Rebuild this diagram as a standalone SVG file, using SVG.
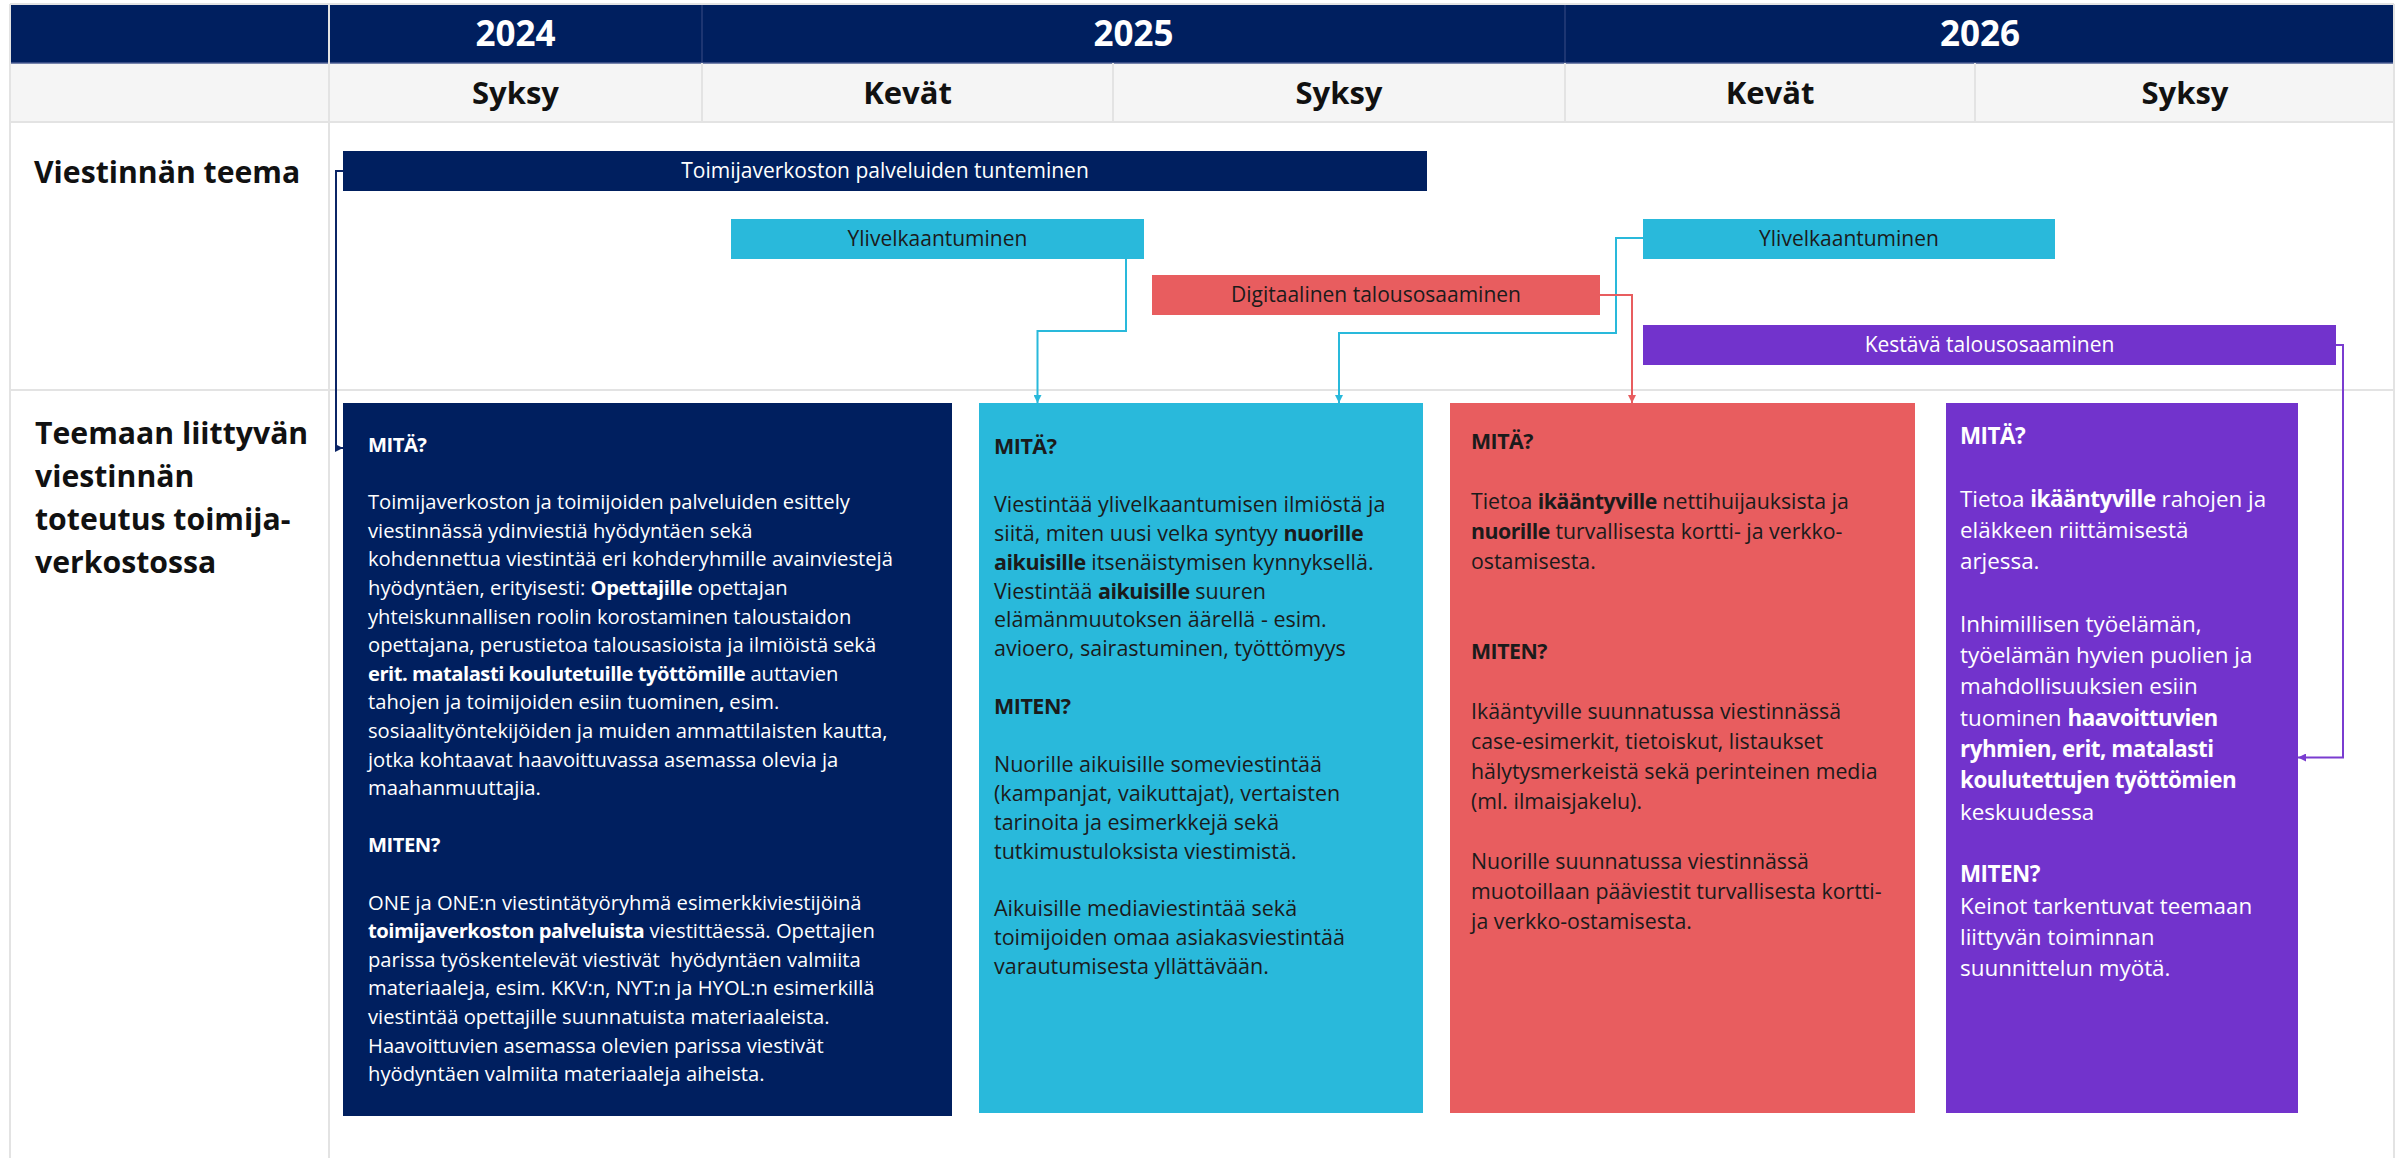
<svg xmlns="http://www.w3.org/2000/svg" width="2405" height="1158" viewBox="0 0 2405 1158">
<defs>
<style>
text{font-family:"Open Sans","Liberation Sans",sans-serif;}
.yr{font-size:35px;font-weight:700;fill:#fff;text-anchor:middle;}
.ss{font-size:31px;font-weight:700;fill:#111;text-anchor:middle;}
.rl{font-size:30.2px;font-weight:700;fill:#111;}
.bt{font-size:21px;text-anchor:middle;}
.w{fill:#fff;}
.d{fill:#1b1b1b;}
.bn{font-size:20.2px;}
.bc{font-size:21.5px;}
.br{font-size:21.3px;}
.bp{font-size:22.4px;}
.b{font-weight:700;letter-spacing:-0.5px;}
.grid{stroke:#e3e3e3;stroke-width:2;fill:none;}
.conn path{fill:none;stroke-width:2;}
</style>
<marker id="mNavy" markerWidth="8" markerHeight="8" refX="8" refY="4" orient="auto" markerUnits="userSpaceOnUse"><path d="M0,0 L8,4 L0,8 Z" fill="#0b2566"/></marker>
<marker id="mCyan" markerWidth="8" markerHeight="8" refX="8" refY="4" orient="auto" markerUnits="userSpaceOnUse"><path d="M0,0 L8,4 L0,8 Z" fill="#29b9db"/></marker>
<marker id="mRed" markerWidth="8" markerHeight="8" refX="8" refY="4" orient="auto" markerUnits="userSpaceOnUse"><path d="M0,0 L8,4 L0,8 Z" fill="#e85d5f"/></marker>
<marker id="mPur" markerWidth="8" markerHeight="8" refX="8" refY="4" orient="auto" markerUnits="userSpaceOnUse"><path d="M0,0 L8,4 L0,8 Z" fill="#7a3cd0"/></marker>
</defs>
<rect width="2405" height="1158" fill="#fff"/>

<g id="header">
<rect x="10" y="4" width="2384" height="59" fill="#001f5f"/>
<rect x="10" y="63" width="2384" height="59" fill="#f5f5f5"/>
<path d="M702,4V63 M1565,4V63 M329,4V63" stroke="#3a4d85" stroke-width="1"/>
<path d="M10,63H2394" stroke="#4a5d92" stroke-width="1.5"/>
<path class="grid" d="M702,63V122 M1113,63V122 M1565,63V122 M1975,63V122"/>
<text class="yr" x="515.5" y="46">2024</text>
<text class="yr" x="1133.5" y="46">2025</text>
<text class="yr" x="1980" y="46">2026</text>
<text class="ss" x="515.5" y="104">Syksy</text>
<text class="ss" x="907.5" y="104">Kevät</text>
<text class="ss" x="1339" y="104">Syksy</text>
<text class="ss" x="1770" y="104">Kevät</text>
<text class="ss" x="2185" y="104">Syksy</text>
</g>

<g id="grid">
<path class="grid" d="M10,4V1158 M329,4V1158 M2394,4V1158 M10,122H2394 M10,390H2394 M10,4H2394"/>
</g>

<g id="row-labels">
<text class="rl" x="34" y="183">Viestinnän teema</text>
<text class="rl" x="35" y="444">Teemaan liittyvän</text>
<text class="rl" x="35" y="487">viestinnän</text>
<text class="rl" x="35" y="530">toteutus toimija-</text>
<text class="rl" x="35" y="573">verkostossa</text>
</g>

<g id="bar-toimijaverkosto">
<rect x="343" y="151" width="1084" height="40" fill="#001f5f"/>
<text class="bt w" x="885" y="178">Toimijaverkoston palveluiden tunteminen</text>
</g>
<g id="bar-ylivelka-1">
<rect x="731" y="219" width="413" height="40" fill="#29b9db"/>
<text class="bt d" x="937.5" y="246">Ylivelkaantuminen</text>
</g>
<g id="bar-digitaalinen">
<rect x="1152" y="275" width="448" height="40" fill="#e85d5f"/>
<text class="bt d" x="1376" y="302">Digitaalinen talousosaaminen</text>
</g>
<g id="bar-ylivelka-2">
<rect x="1643" y="219" width="412" height="40" fill="#29b9db"/>
<text class="bt d" x="1849" y="246">Ylivelkaantuminen</text>
</g>
<g id="bar-kestava">
<rect x="1643" y="325" width="693" height="40" fill="#7233cc"/>
<text class="bt w" x="1989.5" y="352">Kestävä talousosaaminen</text>
</g>

<g id="box-navy">
<rect x="343" y="403" width="609" height="713" fill="#001f5f"/>
<text class="bn w" x="368">
<tspan class="b" x="368" y="452">MITÄ?</tspan>
<tspan x="368" y="509.2">Toimijaverkoston ja toimijoiden palveluiden esittely</tspan>
<tspan x="368" y="537.8">viestinnässä ydinviestiä hyödyntäen sekä</tspan>
<tspan x="368" y="566.4">kohdennettua viestintää eri kohderyhmille avainviestejä</tspan>
<tspan x="368" y="595">hyödyntäen, erityisesti: <tspan class="b">Opettajille</tspan> opettajan</tspan>
<tspan x="368" y="623.6">yhteiskunnallisen roolin korostaminen taloustaidon</tspan>
<tspan x="368" y="652.2">opettajana, perustietoa talousasioista ja ilmiöistä sekä</tspan>
<tspan x="368" y="680.8"><tspan class="b">erit. matalasti koulutetuille työttömille</tspan> auttavien</tspan>
<tspan x="368" y="709.4">tahojen ja toimijoiden esiin tuominen<tspan class="b">,</tspan> esim.</tspan>
<tspan x="368" y="738">sosiaalityöntekijöiden ja muiden ammattilaisten kautta,</tspan>
<tspan x="368" y="766.6">jotka kohtaavat haavoittuvassa asemassa olevia ja</tspan>
<tspan x="368" y="795.2">maahanmuuttajia.</tspan>
<tspan class="b" x="368" y="852.4">MITEN?</tspan>
<tspan x="368" y="909.6">ONE ja ONE:n viestintätyöryhmä esimerkkiviestijöinä</tspan>
<tspan x="368" y="938.2"><tspan class="b">toimijaverkoston palveluista</tspan> viestittäessä. Opettajien</tspan>
<tspan x="368" y="966.8">parissa työskentelevät viestivät&#160; hyödyntäen valmiita</tspan>
<tspan x="368" y="995.4">materiaaleja, esim. KKV:n, NYT:n ja HYOL:n esimerkillä</tspan>
<tspan x="368" y="1024">viestintää opettajille suunnatuista materiaaleista.</tspan>
<tspan x="368" y="1052.6">Haavoittuvien asemassa olevien parissa viestivät</tspan>
<tspan x="368" y="1081.2">hyödyntäen valmiita materiaaleja aiheista.</tspan>
</text>
</g>

<g id="box-cyan">
<rect x="979" y="403" width="444" height="710" fill="#29b9db"/>
<text class="bc d" x="994">
<tspan class="b" x="994" y="454">MITÄ?</tspan>
<tspan x="994" y="511.8">Viestintää ylivelkaantumisen ilmiöstä ja</tspan>
<tspan x="994" y="540.7">siitä, miten uusi velka syntyy <tspan class="b">nuorille</tspan></tspan>
<tspan x="994" y="569.6"><tspan class="b">aikuisille</tspan> itsenäistymisen kynnyksellä.</tspan>
<tspan x="994" y="598.5">Viestintää <tspan class="b">aikuisille</tspan> suuren</tspan>
<tspan x="994" y="627.4">elämänmuutoksen äärellä - esim.</tspan>
<tspan x="994" y="656.3">avioero, sairastuminen, työttömyys</tspan>
<tspan class="b" x="994" y="714.1">MITEN?</tspan>
<tspan x="994" y="771.9">Nuorille aikuisille someviestintää</tspan>
<tspan x="994" y="800.8">(kampanjat, vaikuttajat), vertaisten</tspan>
<tspan x="994" y="829.7">tarinoita ja esimerkkejä sekä</tspan>
<tspan x="994" y="858.6">tutkimustuloksista viestimistä.</tspan>
<tspan x="994" y="916.4">Aikuisille mediaviestintää sekä</tspan>
<tspan x="994" y="945.3">toimijoiden omaa asiakasviestintää</tspan>
<tspan x="994" y="974.2">varautumisesta yllättävään.</tspan>
</text>
</g>

<g id="box-red">
<rect x="1450" y="403" width="465" height="710" fill="#e85d5f"/>
<text class="br d" x="1471">
<tspan class="b" x="1471" y="449">MITÄ?</tspan>
<tspan x="1471" y="509">Tietoa <tspan class="b">ikääntyville</tspan> nettihuijauksista ja</tspan>
<tspan x="1471" y="539"><tspan class="b">nuorille</tspan> turvallisesta kortti- ja verkko-</tspan>
<tspan x="1471" y="569">ostamisesta.</tspan>
<tspan class="b" x="1471" y="659">MITEN?</tspan>
<tspan x="1471" y="719">Ikääntyville suunnatussa viestinnässä</tspan>
<tspan x="1471" y="749">case-esimerkit, tietoiskut, listaukset</tspan>
<tspan x="1471" y="779">hälytysmerkeistä sekä perinteinen media</tspan>
<tspan x="1471" y="809">(ml. ilmaisjakelu).</tspan>
<tspan x="1471" y="869">Nuorille suunnatussa viestinnässä</tspan>
<tspan x="1471" y="899">muotoillaan pääviestit turvallisesta kortti-</tspan>
<tspan x="1471" y="929">ja verkko-ostamisesta.</tspan>
</text>
</g>

<g id="box-purple">
<rect x="1946" y="403" width="352" height="710" fill="#7233cc"/>
<text class="bp w" x="1960">
<tspan class="b" x="1960" y="444">MITÄ?</tspan>
<tspan x="1960" y="506.6">Tietoa <tspan class="b">ikääntyville</tspan> rahojen ja</tspan>
<tspan x="1960" y="537.9">eläkkeen riittämisestä</tspan>
<tspan x="1960" y="569.2">arjessa.</tspan>
<tspan x="1960" y="631.8">Inhimillisen työelämän,</tspan>
<tspan x="1960" y="663.1">työelämän hyvien puolien ja</tspan>
<tspan x="1960" y="694.4">mahdollisuuksien esiin</tspan>
<tspan x="1960" y="725.7">tuominen <tspan class="b">haavoittuvien</tspan></tspan>
<tspan class="b" x="1960" y="757">ryhmien, erit, matalasti</tspan>
<tspan class="b" x="1960" y="788.3">koulutettujen työttömien</tspan>
<tspan x="1960" y="819.6">keskuudessa</tspan>
<tspan class="b" x="1960" y="882.2">MITEN?</tspan>
<tspan x="1960" y="913.5">Keinot tarkentuvat teemaan</tspan>
<tspan x="1960" y="944.8">liittyvän toiminnan</tspan>
<tspan x="1960" y="976.1">suunnittelun myötä.</tspan>
</text>
</g>

<g id="connectors" class="conn">
<path d="M343,171 H336 V448 H343" stroke="#0b2566" marker-end="url(#mNavy)"/>
<path d="M1126,259 V331 H1037.5 V403" stroke="#29b9db" marker-end="url(#mCyan)"/>
<path d="M1643,238 H1616 V333 H1339 V403" stroke="#29b9db" marker-end="url(#mCyan)"/>
<path d="M1600,295 H1632 V403" stroke="#e85d5f" marker-end="url(#mRed)"/>
<path d="M2336,345 H2343 V757.5 H2298" stroke="#7a3cd0" marker-end="url(#mPur)"/>
</g>
</svg>
